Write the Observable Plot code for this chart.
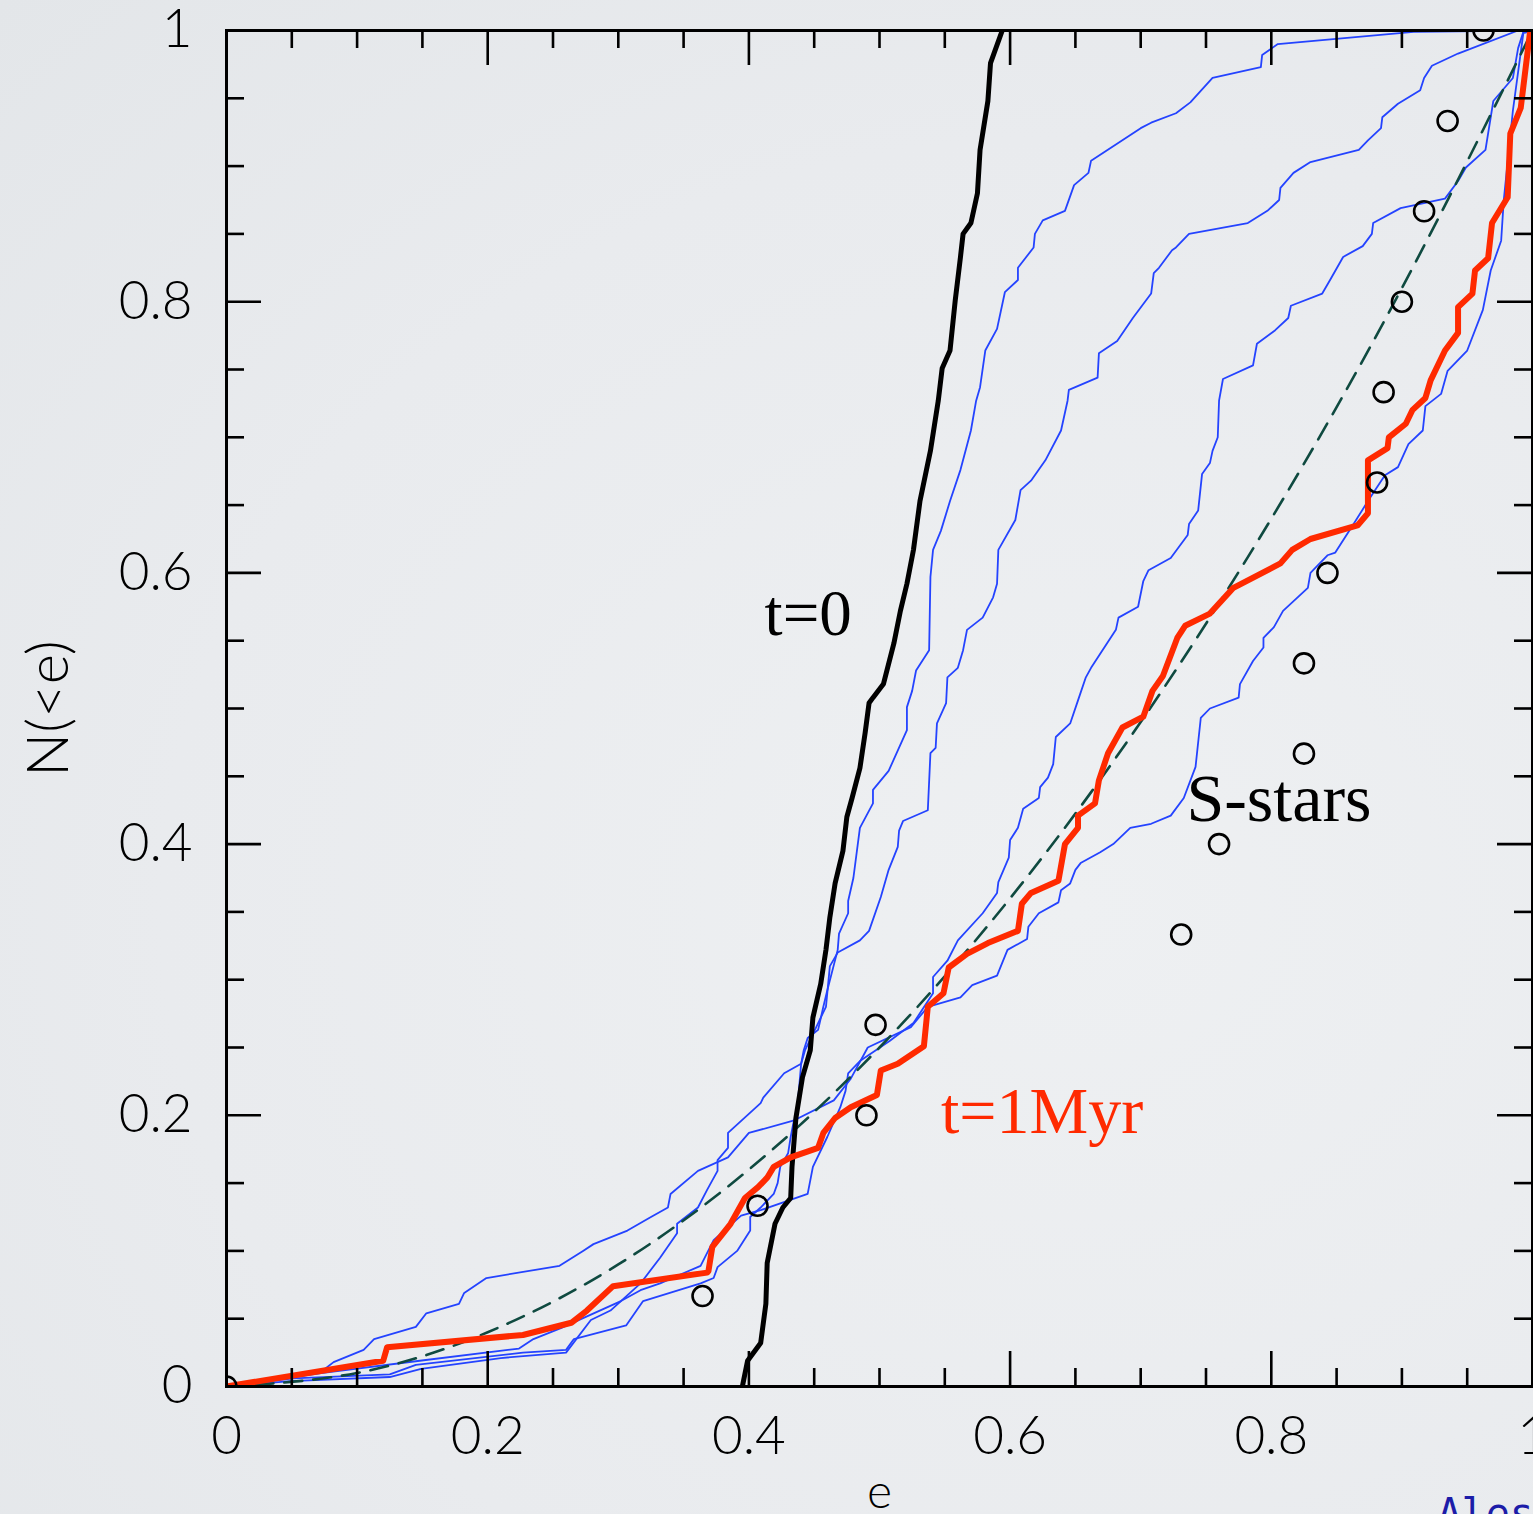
<!DOCTYPE html>
<html>
<head>
<meta charset="utf-8">
<script src="https://cdn.jsdelivr.net/npm/d3@7"></script>
<script src="https://cdn.jsdelivr.net/npm/@observablehq/plot@0.6"></script>
<style>
html, body { margin: 0; padding: 0; width: 1533px; height: 1514px; overflow: hidden;
  background: radial-gradient(ellipse at 70% 60%, #eef0f2 0%, #e9ebee 60%, #e3e6e9 100%); }
#chart { position: absolute; left: 0; top: 0; }
</style>
</head>
<body>
<div id="chart"></div>
<script>
// ---- Data (e, N(<e)) ----
const tZero = [[0.395,0],[0.399,0.019],[0.409,0.032],[0.413,0.061],[0.414,0.091],[0.420,0.120],[0.426,0.132],[0.432,0.139],[0.433,0.162],[0.436,0.198],[0.441,0.228],[0.447,0.248],[0.449,0.272],[0.455,0.297],[0.459,0.322],[0.462,0.346],[0.466,0.371],[0.472,0.395],[0.475,0.420],[0.479,0.434],[0.485,0.456],[0.489,0.482],[0.492,0.504],[0.495,0.508],[0.503,0.518],[0.511,0.548],[0.516,0.572],[0.521,0.592],[0.526,0.617],[0.531,0.653],[0.539,0.690],[0.545,0.727],[0.548,0.751],[0.554,0.764],[0.558,0.801],[0.562,0.833],[0.564,0.850],[0.570,0.858],[0.575,0.880],[0.577,0.912],[0.583,0.948],[0.585,0.976],[0.594,1.0]];

const tOneMyr = [[0,0],[0.120,0.019],[0.123,0.029],[0.227,0.038],[0.264,0.047],[0.276,0.056],[0.296,0.074],[0.368,0.084],[0.369,0.085],[0.372,0.103],[0.386,0.120],[0.397,0.139],[0.407,0.147],[0.414,0.154],[0.419,0.162],[0.432,0.169],[0.453,0.176],[0.457,0.187],[0.466,0.198],[0.478,0.206],[0.498,0.215],[0.501,0.233],[0.514,0.238],[0.534,0.251],[0.537,0.280],[0.549,0.290],[0.553,0.309],[0.567,0.319],[0.583,0.327],[0.606,0.336],[0.609,0.356],[0.616,0.364],[0.637,0.373],[0.642,0.400],[0.652,0.412],[0.652,0.421],[0.665,0.430],[0.668,0.447],[0.675,0.467],[0.686,0.486],[0.702,0.494],[0.709,0.513],[0.717,0.524],[0.728,0.552],[0.734,0.561],[0.753,0.570],[0.771,0.589],[0.807,0.607],[0.816,0.617],[0.830,0.625],[0.866,0.635],[0.874,0.644],[0.874,0.683],[0.889,0.692],[0.890,0.700],[0.903,0.710],[0.908,0.720],[0.918,0.729],[0.922,0.742],[0.933,0.764],[0.943,0.777],[0.943,0.796],[0.954,0.806],[0.956,0.823],[0.966,0.832],[0.969,0.858],[0.981,0.877],[0.983,0.924],[0.991,0.943],[0.998,0.998],[1.0,1.0]];

const blueA = [[0,0],[0.049,0.004],[0.125,0.007],[0.149,0.013],[0.210,0.021],[0.260,0.025],[0.279,0.049],[0.294,0.056],[0.317,0.076],[0.332,0.095],[0.345,0.113],[0.345,0.120],[0.361,0.132],[0.368,0.145],[0.376,0.159],[0.376,0.167],[0.384,0.176],[0.384,0.187],[0.409,0.209],[0.411,0.213],[0.427,0.231],[0.440,0.238],[0.442,0.248],[0.445,0.257],[0.453,0.263],[0.457,0.280],[0.460,0.292],[0.468,0.322],[0.469,0.334],[0.476,0.349],[0.476,0.358],[0.480,0.375],[0.485,0.412],[0.495,0.430],[0.495,0.440],[0.507,0.454],[0.521,0.484],[0.521,0.501],[0.525,0.513],[0.528,0.528],[0.538,0.543],[0.539,0.597],[0.541,0.617],[0.547,0.631],[0.554,0.653],[0.562,0.676],[0.570,0.705],[0.574,0.727],[0.577,0.737],[0.581,0.764],[0.590,0.780],[0.596,0.807],[0.606,0.816],[0.606,0.825],[0.618,0.840],[0.619,0.850],[0.625,0.860],[0.642,0.867],[0.649,0.886],[0.660,0.895],[0.662,0.904],[0.700,0.928],[0.708,0.932],[0.727,0.939],[0.738,0.947],[0.755,0.965],[0.792,0.973],[0.793,0.982],[0.805,0.990],[0.909,0.999],[1,1]];

const blueB = [[0,0],[0.051,0.006],[0.125,0.009],[0.145,0.016],[0.227,0.025],[0.260,0.027],[0.266,0.035],[0.306,0.045],[0.319,0.063],[0.363,0.076],[0.373,0.080],[0.376,0.088],[0.391,0.100],[0.401,0.115],[0.401,0.125],[0.409,0.132],[0.419,0.142],[0.422,0.150],[0.424,0.162],[0.430,0.172],[0.432,0.184],[0.434,0.194],[0.437,0.204],[0.440,0.238],[0.443,0.248],[0.451,0.264],[0.459,0.280],[0.462,0.310],[0.468,0.320],[0.485,0.329],[0.492,0.336],[0.501,0.361],[0.507,0.381],[0.514,0.398],[0.515,0.410],[0.518,0.417],[0.537,0.425],[0.539,0.467],[0.543,0.471],[0.544,0.489],[0.551,0.504],[0.552,0.523],[0.560,0.530],[0.564,0.543],[0.567,0.558],[0.579,0.567],[0.587,0.582],[0.590,0.592],[0.591,0.617],[0.604,0.639],[0.608,0.661],[0.616,0.668],[0.627,0.683],[0.639,0.705],[0.644,0.727],[0.645,0.735],[0.667,0.744],[0.668,0.762],[0.682,0.771],[0.694,0.788],[0.708,0.806],[0.710,0.821],[0.714,0.825],[0.724,0.838],[0.727,0.840],[0.737,0.850],[0.782,0.858],[0.797,0.867],[0.806,0.875],[0.807,0.884],[0.817,0.895],[0.830,0.903],[0.867,0.912],[0.874,0.919],[0.884,0.928],[0.885,0.936],[0.897,0.946],[0.914,0.956],[0.917,0.965],[0.923,0.974],[0.943,0.983],[0.989,1.0],[1,1]];

const blueC = [[0,0],[0.074,0.010],[0.148,0.019],[0.224,0.028],[0.235,0.035],[0.256,0.043],[0.302,0.063],[0.317,0.071],[0.332,0.076],[0.363,0.089],[0.373,0.108],[0.394,0.126],[0.409,0.130],[0.445,0.142],[0.449,0.162],[0.460,0.184],[0.470,0.206],[0.474,0.218],[0.476,0.231],[0.485,0.240],[0.508,0.255],[0.526,0.268],[0.541,0.290],[0.541,0.302],[0.552,0.314],[0.560,0.329],[0.579,0.349],[0.590,0.364],[0.591,0.372],[0.599,0.390],[0.600,0.403],[0.606,0.412],[0.610,0.426],[0.622,0.434],[0.623,0.442],[0.629,0.449],[0.633,0.459],[0.635,0.479],[0.646,0.489],[0.652,0.506],[0.658,0.523],[0.662,0.530],[0.681,0.558],[0.683,0.567],[0.698,0.575],[0.702,0.594],[0.706,0.602],[0.723,0.611],[0.736,0.628],[0.737,0.636],[0.744,0.646],[0.747,0.673],[0.753,0.681],[0.755,0.690],[0.759,0.700],[0.760,0.727],[0.763,0.743],[0.786,0.753],[0.789,0.769],[0.803,0.779],[0.813,0.788],[0.815,0.797],[0.839,0.806],[0.845,0.816],[0.855,0.833],[0.870,0.841],[0.877,0.850],[0.878,0.858],[0.899,0.869],[0.933,0.876],[0.943,0.889],[0.949,0.899],[0.964,0.912],[0.970,0.948],[0.985,0.965],[0.989,0.987],[0.993,0.999],[1,1]];

const blueD = [[0,0],[0.046,0.008],[0.074,0.012],[0.082,0.018],[0.105,0.027],[0.113,0.035],[0.145,0.044],[0.153,0.054],[0.178,0.061],[0.182,0.069],[0.199,0.080],[0.255,0.089],[0.273,0.100],[0.281,0.105],[0.307,0.115],[0.325,0.125],[0.338,0.132],[0.340,0.142],[0.361,0.159],[0.384,0.169],[0.400,0.187],[0.434,0.196],[0.465,0.211],[0.478,0.227],[0.491,0.250],[0.524,0.265],[0.537,0.280],[0.562,0.287],[0.571,0.296],[0.590,0.303],[0.598,0.322],[0.613,0.330],[0.614,0.339],[0.622,0.349],[0.637,0.357],[0.639,0.366],[0.646,0.371],[0.650,0.381],[0.654,0.386],[0.669,0.394],[0.679,0.400],[0.692,0.412],[0.708,0.415],[0.723,0.421],[0.733,0.434],[0.742,0.457],[0.746,0.493],[0.753,0.500],[0.775,0.508],[0.776,0.518],[0.786,0.535],[0.794,0.545],[0.794,0.552],[0.802,0.560],[0.809,0.572],[0.828,0.589],[0.830,0.600],[0.843,0.613],[0.849,0.615],[0.863,0.636],[0.874,0.653],[0.887,0.672],[0.897,0.678],[0.905,0.695],[0.916,0.705],[0.918,0.723],[0.930,0.732],[0.935,0.749],[0.950,0.764],[0.962,0.794],[0.968,0.823],[0.976,0.845],[0.978,0.875],[0.985,0.941],[0.993,0.998],[1,1]];

const thermalE = [0, 0.1, 0.2, 0.3, 0.4, 0.5, 0.6, 0.7, 0.8, 0.9, 1.0];
const thermalN = [0, 0.01, 0.04, 0.09, 0.16, 0.25, 0.36, 0.49, 0.64, 0.81, 1.0];

const sStarsE = [0, 0.3645, 0.4066, 0.490, 0.497, 0.731, 0.760, 0.825, 0.825, 0.843, 0.881, 0.886, 0.900, 0.917, 0.935, 0.9625];
const sStarsN = [0, 0.0667, 0.1333, 0.2, 0.2667, 0.3333, 0.4, 0.4667, 0.5333, 0.6, 0.6667, 0.7333, 0.8, 0.8667, 0.9333, 1.0];

const majorTicks = [0, 0.2, 0.4, 0.6, 0.8, 1];
const minorTicks = [0.05, 0.1, 0.15, 0.25, 0.3, 0.35, 0.45, 0.5, 0.55, 0.65, 0.7, 0.75, 0.85, 0.9, 0.95];

// ---- Build tables ----
const toRows = (arr, name) => arr.map(([e, n]) => ({e, n, name}));
const blueRows = [...toRows(blueA, "A"), ...toRows(blueB, "B"), ...toRows(blueC, "C"), ...toRows(blueD, "D")];
const thermal = thermalE.map((e, i) => ({e, n: thermalN[i]}));
const sStars = sStarsE.map((e, i) => ({e, n: sStarsN[i]}));

const W = 1533, H = 1514;
const mL = 226, mR = 1, mT = 30, mB = 128;
const innerW = W - mL - mR, innerH = H - mT - mB;
const major = 35, minor = 18;
const fmt = d => String(d);
const serif = "Liberation Serif, DejaVu Serif, serif";
const sans = "Lato, Noto Sans, sans-serif";

const chart = Plot.plot({
  width: W, height: H,
  marginLeft: mL, marginRight: mR, marginTop: mT, marginBottom: mB,
  x: {domain: [0, 1]},
  y: {domain: [0, 1]},
  style: {background: "transparent", color: "black", fontFamily: sans},
  marks: [
    Plot.line(blueRows, {x: "e", y: "n", z: "name", stroke: "#2443ff", strokeWidth: 1.8, clip: true}),
    Plot.line(thermal, {x: "e", y: "n", stroke: "#0f4a40", strokeWidth: 2.6, strokeDasharray: "18,11", curve: "natural", clip: true}),
    Plot.line(tZero, {x: d => d[0], y: d => d[1], stroke: "black", strokeWidth: 5, clip: true}),
    Plot.line(tOneMyr, {x: d => d[0], y: d => d[1], stroke: "#ff2a00", strokeWidth: 6, clip: true}),
    Plot.dot(sStars, {x: "e", y: "n", r: 10, stroke: "black", strokeWidth: 2.6, fill: "none", clip: true}),
    // frame and inward ticks
    Plot.frame({stroke: "black", strokeWidth: 3}),
    Plot.tickX(majorTicks, {x: d => d, stroke: "black", strokeWidth: 2.6, insetTop: innerH - major}),
    Plot.tickX(majorTicks, {x: d => d, stroke: "black", strokeWidth: 2.6, insetBottom: innerH - major}),
    Plot.tickX(minorTicks, {x: d => d, stroke: "black", strokeWidth: 2.6, insetTop: innerH - minor}),
    Plot.tickX(minorTicks, {x: d => d, stroke: "black", strokeWidth: 2.6, insetBottom: innerH - minor}),
    Plot.tickY(majorTicks, {y: d => d, stroke: "black", strokeWidth: 2.6, insetRight: innerW - major}),
    Plot.tickY(majorTicks, {y: d => d, stroke: "black", strokeWidth: 2.6, insetLeft: innerW - major}),
    Plot.tickY(minorTicks, {y: d => d, stroke: "black", strokeWidth: 2.6, insetRight: innerW - minor}),
    Plot.tickY(minorTicks, {y: d => d, stroke: "black", strokeWidth: 2.6, insetLeft: innerW - minor}),
    // tick labels
    Plot.axisX({ticks: majorTicks, tickSize: 0, tickPadding: 30, tickFormat: fmt, fontSize: 53, fontWeight: 300, fontFamily: sans, label: null}),
    Plot.axisY({ticks: majorTicks, tickSize: 0, tickPadding: 34, tickFormat: fmt, fontSize: 53, fontWeight: 300, fontFamily: sans, label: null}),
    // axis titles
    Plot.text(["e"], {frameAnchor: "bottom", dy: 106, text: d => d, fontSize: 48, fontWeight: 300, fontFamily: sans, lineAnchor: "middle"}),
    Plot.text(["N(<e)"], {frameAnchor: "left", dx: -177, rotate: -90, text: d => d, textAnchor: "middle", fontSize: 58, fontWeight: 300, fontFamily: sans, lineAnchor: "middle"}),
    // curve labels
    Plot.text(["t=0"], {x: 0.412, y: 0.554, text: d => d, textAnchor: "start", lineAnchor: "bottom", fontSize: 65, fontFamily: serif, fill: "black"}),
    Plot.text(["t=1Myr"], {x: 0.547, y: 0.187, text: d => d, textAnchor: "start", lineAnchor: "bottom", fontSize: 66, fontFamily: serif, fill: "#ff2a00"}),
    Plot.text(["S-stars"], {x: 0.735, y: 0.417, text: d => d, textAnchor: "start", lineAnchor: "bottom", fontSize: 68, fontFamily: serif, fill: "black"}),
    // credit (cut off at the right edge)
    Plot.text(["Alessandra"], {frameAnchor: "bottom-left", dx: 1211, dy: 140, text: d => d, textAnchor: "start", lineAnchor: "bottom", fontSize: 40, fontFamily: "DejaVu Sans Mono, monospace", fill: "#1c1ca8"})
  ]
});
document.getElementById("chart").appendChild(chart);
</script>
</body>
</html>
